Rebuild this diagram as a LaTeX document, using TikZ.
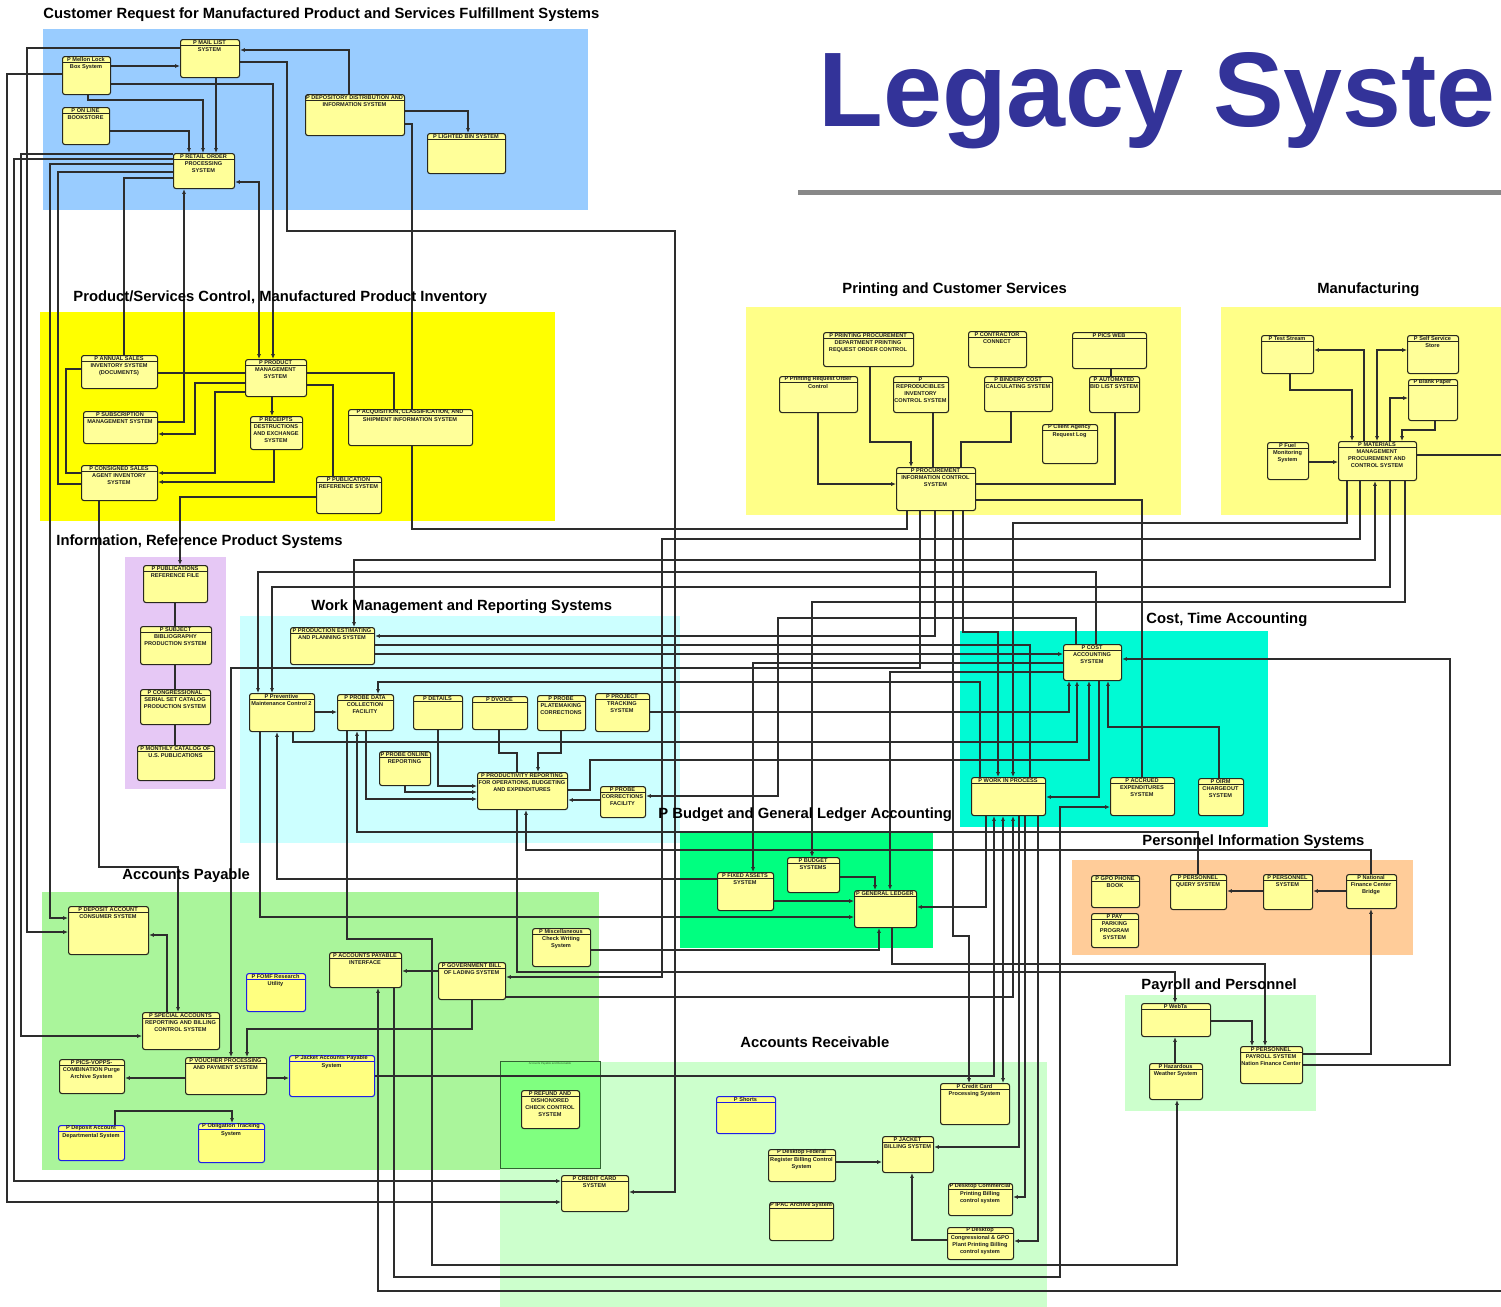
\documentclass[tikz,border=0pt]{standalone}
\usepackage{fontspec}
\setmainfont{Liberation Sans}
\usetikzlibrary{arrows.meta}
\pgfdeclarelayer{bg}\pgfdeclarelayer{edges}
\pgfsetlayers{bg,edges,main}
\definecolor{cBlue}{RGB}{153,204,255}
\definecolor{cYel}{RGB}{255,255,0}
\definecolor{cPur}{RGB}{230,200,245}
\definecolor{cCyan}{RGB}{204,255,255}
\definecolor{cLY}{RGB}{255,255,136}
\definecolor{cTeal}{RGB}{0,250,212}
\definecolor{cBG}{RGB}{0,255,128}
\definecolor{cOr}{RGB}{255,204,153}
\definecolor{cLG}{RGB}{204,255,204}
\definecolor{cAP}{RGB}{170,245,155}
\definecolor{cDG}{RGB}{128,255,128}
\definecolor{cDGline}{RGB}{50,100,50}
\definecolor{cBox}{RGB}{255,255,153}
\definecolor{cBoxB}{RGB}{255,255,128}
\definecolor{cBord}{RGB}{40,40,30}
\definecolor{cBlueB}{RGB}{30,30,230}
\definecolor{cTxt}{RGB}{30,30,30}
\definecolor{cTitle}{RGB}{51,51,153}
\definecolor{cLine}{RGB}{45,45,45}
\definecolor{cRule}{RGB}{136,136,136}
\newcommand\sbx[8][]{%
  \node[sbox,#1,minimum width={(#5-#3)*0.5pt},minimum height={(#6-#4)*0.5pt},anchor=north west] (#2) at (#3,#4) {};
  \draw[hl,#1] (#3,#4+6.5) -- (#5,#4+6.5);
  \node[ht] (#2-t) at ({(#3+#5)/2},#4+3.4) {#7};
  \node[bt] (#2-b) at ({(#3+#5)/2},#4+7) {#8};
}
\begin{document}
\begin{tikzpicture}[x=0.5pt,y=-0.5pt,
  sbox/.style={draw=cBord,fill=cBox,rounded corners=1.2pt,line width=0.55pt,inner sep=0pt},
  bluebox/.style={draw=cBlueB,fill=cBoxB},
  hl/.style={draw=cBord,line width=0.5pt},
  ht/.style={font=\fontsize{2.8}{3.4}\selectfont\bfseries,inner sep=0pt,text=cTxt},
  bt/.style={font=\fontsize{2.8}{3.5}\selectfont\bfseries,inner sep=0.4pt,anchor=north,align=center,text=cTxt},
  sect/.style={font=\fontsize{7.4}{9}\selectfont\bfseries,anchor=base west,inner sep=0pt},
  cn/.style={draw=cLine,line width=0.55pt},
  ar/.style={-{Latex[length=2.4pt,width=2pt]}},
  ab/.style={{Latex[length=2.4pt,width=2pt]}-{Latex[length=2.4pt,width=2pt]}}]
\useasboundingbox (0,0) rectangle (1501,1307);
\clip (0,0) rectangle (1501,1307);
\begin{pgfonlayer}{bg}
\fill[cBlue] (43,29) rectangle (588,210);
\fill[cYel] (40,312) rectangle (555,521);
\fill[cPur] (125,557) rectangle (226,789);
\fill[cCyan] (240,616) rectangle (680,843);
\fill[cLY] (746,307) rectangle (1181,515);
\fill[cLY] (1221,307) rectangle (1501,515);
\fill[cTeal] (960,631) rectangle (1268,827);
\fill[cBG] (680,833) rectangle (933,948);
\fill[cOr] (1072,860) rectangle (1413,955);
\fill[cLG] (1125,995) rectangle (1316,1111);
\fill[cAP] (42,892) rectangle (599,1170);
\fill[cLG] (500,1062) rectangle (1047,1307);
\filldraw[fill=cDG,draw=cDGline,line width=0.5pt] (500,1061) rectangle (600,1168);
\fill[cRule] (798,190) rectangle (1501,195);
\end{pgfonlayer}
% titles
\node[anchor=base west,inner sep=0pt,text=cTitle,font=\fontsize{53}{60}\selectfont\bfseries] (legacy) at (818,126) {Legacy Syste};
\node[sect] (t1) at (43,18) {Customer Request for Manufactured Product and Services Fulfillment Systems};
\node[sect] (t2) at (73,301) {Product/Services Control, Manufactured Product Inventory};
\node[sect] (t3) at (56,545) {Information, Reference Product Systems};
\node[sect] (t4) at (311,610) {Work Management and Reporting Systems};
\node[sect] (t5) at (842,293) {Printing and Customer Services};
\node[sect] (t6) at (1317,293) {Manufacturing};
\node[sect] (t7) at (1146,623) {Cost, Time Accounting};
\node[sect] (t8) at (658,818) {P Budget and General Ledger Accounting};
\node[sect] (t9) at (1142,845) {Personnel Information Systems};
\node[sect] (t10) at (122,879) {Accounts Payable};
\node[sect] (t11) at (1141,989) {Payroll and Personnel};
\node[sect] (t12) at (740,1047) {Accounts Receivable};
\node[font=\fontsize{1.4}{1.6}\selectfont,inner sep=0pt,text=cDGline] (t13) at (550,1064) {Accounts Payable and Receivable};
% boxes
\sbx{mail}{180}{39}{239}{77}{P MAIL LIST}{SYSTEM}
\sbx{mellon}{62}{56}{110}{94}{P Mellon Lock}{Box System}
\sbx{online}{62}{107}{109}{144}{P ON LINE}{BOOKSTORE}
\sbx{retail}{173}{153}{234}{188}{P RETAIL ORDER}{PROCESSING\\SYSTEM}
\sbx{depo}{305}{94}{404}{135}{P DEPOSITORY DISTRIBUTION AND}{INFORMATION SYSTEM}
\sbx{bin}{427}{133}{505}{173}{P LIGHTED BIN SYSTEM}{}
\sbx{annual}{81}{355}{157}{388}{P ANNUAL SALES}{INVENTORY SYSTEM\\(DOCUMENTS)}
\sbx{prodm}{245}{359}{306}{396}{P PRODUCT}{MANAGEMENT\\SYSTEM}
\sbx{subs}{83}{411}{157}{443}{P SUBSCRIPTION}{MANAGEMENT SYSTEM}
\sbx{rcpt}{250}{416}{302}{449}{P RECEIPTS}{DESTRUCTIONS\\AND EXCHANGE\\SYSTEM}
\sbx{acq}{348}{409}{472}{445}{P ACQUISITION, CLASSIFICATION, AND}{SHIPMENT INFORMATION SYSTEM}
\sbx{consig}{81}{465}{157}{500}{P CONSIGNED SALES}{AGENT INVENTORY\\SYSTEM}
\sbx{pubref}{316}{476}{381}{513}{P PUBLICATION}{REFERENCE SYSTEM}
\sbx{pubfile}{143}{565}{207}{602}{P PUBLICATIONS}{REFERENCE FILE}
\sbx{subj}{140}{626}{211}{664}{P SUBJECT}{BIBLIOGRAPHY\\PRODUCTION SYSTEM}
\sbx{cong}{140}{689}{210}{724}{P CONGRESSIONAL}{SERIAL SET CATALOG\\PRODUCTION SYSTEM}
\sbx{monthly}{137}{745}{214}{780}{P MONTHLY CATALOG OF}{U.S. PUBLICATIONS}
\sbx{prodest}{290}{627}{374}{664}{P PRODUCTION ESTIMATING}{AND PLANNING SYSTEM}
\sbx{prev}{249}{693}{314}{731}{P Preventive}{Maintenance Control 2}
\sbx{probe}{337}{694}{393}{730}{P PROBE DATA}{COLLECTION\\FACILITY}
\sbx{det}{413}{695}{462}{729}{P DETAILS}{}
\sbx{dvoice}{472}{696}{527}{729}{P DVOICE}{}
\sbx{plate}{537}{695}{585}{730}{P PROBE}{PLATEMAKING\\CORRECTIONS}
\sbx{proj}{595}{693}{649}{731}{P PROJECT}{TRACKING\\SYSTEM}
\sbx{online2}{379}{751}{430}{785}{P PROBE ONLINE}{REPORTING}
\sbx{prodr}{477}{772}{567}{809}{P PRODUCTIVITY REPORTING}{FOR OPERATIONS, BUDGETING\\AND EXPENDITURES}
\sbx{pcorr}{600}{786}{645}{817}{P PROBE}{CORRECTIONS\\FACILITY}
\sbx{pp}{823}{332}{913}{366}{P PRINTING PROCUREMENT}{DEPARTMENT PRINTING\\REQUEST ORDER CONTROL}
\sbx{contr}{968}{331}{1026}{367}{P CONTRACTOR}{CONNECT}
\sbx{picsweb}{1072}{332}{1146}{368}{P PICS WEB}{}
\sbx{pro}{779}{376}{857}{412}{P Printing Request Order}{Control}
\sbx{repro}{893}{376}{948}{412}{P}{REPRODUCIBLES\\INVENTORY\\CONTROL SYSTEM}
\sbx{bind}{984}{376}{1052}{411}{P BINDERY COST}{CALCULATING SYSTEM}
\sbx{auto}{1089}{376}{1139}{412}{P AUTOMATED}{BID LIST SYSTEM}
\sbx{client}{1042}{424}{1097}{463}{P Client Agency}{Request Log}
\sbx{proc}{896}{467}{975}{510}{P PROCUREMENT}{INFORMATION CONTROL\\SYSTEM}
\sbx{test}{1261}{335}{1313}{373}{P Test Stream}{}
\sbx{self}{1407}{335}{1458}{373}{P Self Service}{Store}
\sbx{blank}{1408}{379}{1457}{420}{P Blank Paper}{}
\sbx{fuel}{1267}{442}{1308}{479}{P Fuel}{Monitoring\\System}
\sbx{mat}{1338}{441}{1416}{480}{P MATERIALS}{MANAGEMENT\\PROCUREMENT AND\\CONTROL SYSTEM}
\sbx{cost}{1063}{644}{1121}{680}{P COST}{ACCOUNTING\\SYSTEM}
\sbx{wip}{971}{777}{1045}{815}{P WORK IN PROCESS}{}
\sbx{accr}{1110}{777}{1174}{815}{P ACCRUED}{EXPENDITURES\\SYSTEM}
\sbx{oirm}{1198}{778}{1243}{815}{P OIRM}{CHARGEOUT\\SYSTEM}
\sbx{fixed}{717}{872}{773}{910}{P FIXED ASSETS}{SYSTEM}
\sbx{budget}{787}{857}{839}{892}{P BUDGET}{SYSTEMS}
\sbx{gl}{854}{890}{916}{927}{P GENERAL LEDGER}{}
\sbx{gpo}{1091}{875}{1139}{907}{P GPO PHONE}{BOOK}
\sbx{park}{1091}{913}{1138}{947}{P PAY}{PARKING\\PROGRAM\\SYSTEM}
\sbx{query}{1170}{874}{1226}{909}{P PERSONNEL}{QUERY SYSTEM}
\sbx{psys}{1263}{874}{1312}{909}{P PERSONNEL}{SYSTEM}
\sbx{natl}{1346}{874}{1396}{908}{P National}{Finance Center\\Bridge}
\sbx{webta}{1141}{1003}{1210}{1036}{P WebTa}{}
\sbx{payroll}{1240}{1046}{1302}{1083}{P PERSONNEL}{PAYROLL SYSTEM\\Nation Finance Center}
\sbx{haz}{1149}{1063}{1202}{1099}{P Hazardous}{Weather System}
\sbx{depcon}{68}{906}{148}{954}{P DEPOSIT ACCOUNT}{CONSUMER SYSTEM}
\sbx[bluebox]{fomf}{246}{973}{305}{1011}{P FOMF Research}{Utility}
\sbx{apint}{329}{952}{401}{987}{P ACCOUNTS PAYABLE}{INTERFACE}
\sbx{special}{142}{1012}{219}{1049}{P SPECIAL ACCOUNTS}{REPORTING AND BILLING\\CONTROL SYSTEM}
\sbx{vopps}{59}{1059}{124}{1093}{P PICS-VOPPS-}{COMBINATION Purge\\Archive System}
\sbx{vouch}{185}{1057}{266}{1094}{P VOUCHER PROCESSING}{AND PAYMENT SYSTEM}
\sbx[bluebox]{jap}{289}{1055}{374}{1096}{P Jacket Accounts Payable}{System}
\sbx[bluebox]{depdep}{58}{1125}{124}{1160}{P Deposit Account}{Departmental System}
\sbx[bluebox]{oblig}{198}{1123}{264}{1162}{P Obligation Tracking}{System}
\sbx{gbl}{438}{962}{505}{999}{P GOVERNMENT BILL}{OF LADING SYSTEM}
\sbx{misc}{532}{928}{590}{966}{P Miscellaneous}{Check Writing\\System}
\sbx{refund}{521}{1090}{579}{1128}{P REFUND AND}{DISHONORED\\CHECK CONTROL\\SYSTEM}
\sbx{ccsys}{561}{1175}{628}{1211}{P CREDIT CARD}{SYSTEM}
\sbx[bluebox]{shorts}{716}{1096}{775}{1133}{P Shorts}{}
\sbx{ccproc}{940}{1083}{1009}{1124}{P Credit Card}{Processing System}
\sbx{jbill}{882}{1136}{933}{1172}{P JACKET}{BILLING SYSTEM}
\sbx{dfed}{768}{1149}{835}{1181}{P Desktop Federal}{Register Billing Control\\System}
\sbx{ipac}{769}{1202}{833}{1240}{P IPAC Archive System}{}
\sbx{dcom}{948}{1183}{1012}{1215}{P Desktop Commercial}{Printing Billing\\control system}
\sbx{dcong}{947}{1227}{1013}{1259}{P Desktop}{Congressional \& GPO\\Plant Printing Billing\\control system}
% connectors
\begin{pgfonlayer}{edges}
\draw[cn,ar] (mellon.east |- 0,66) -- (mail.west |- 0,66);
\draw[cn,ar] (mellon.east |- 0,84) -| (prodm.north -| 273,0);
\draw[cn,ar] (mellon.south -| 88,0) |- (203,100) -- (retail.north -| 203,0);
\draw[cn,ar] (online.east |- 0,131) -| (retail.north -| 189,0);
\draw[cn,ar] (mail.south -| 216,0) -- (retail.north -| 216,0);
\draw[cn,ar] (mail.west |- 0,48) -| (27,932) -- (depcon.west |- 0,932);
\draw[cn,ar] (mail.east |- 0,62) -| (287,231) -| (675,1192) -- (ccsys.east |- 0,1192);
\draw[cn,ar] (depo.north -| 349,0) |- (mail.east |- 0,50);
\draw[cn,ar] (depo.east |- 0,111) -| (bin.north -| 468,0);
\draw[cn] (depo.east |- 0,124) -| (412,529) -| (proc.south -| 907,0);
\draw[cn] (retail.west |- 0,178) -| (annual.north -| 124,0);
\draw[cn,ar] (retail.west |- 0,154) -| (21,1036) -- (special.west |- 0,1036);
\draw[cn,ar] (retail.west |- 0,159) -| (14,1181) -- (ccsys.west |- 0,1181);
\draw[cn,ar] (retail.west |- 0,164) -| (50,918) -- (depcon.west |- 0,918);
\draw[cn] (retail.west |- 0,172) -| (58,484) -- (consig.west |- 0,484);
\draw[cn,ar] (mellon.west |- 0,74) -| (7,1202) -- (ccsys.west |- 0,1202);
\draw[cn,ab] (retail.east |- 0,182) -| (prodm.north -| 259,0);
\draw[cn,ar] (subs.east |- 0,422) -| (retail.south -| 184,0);
\draw[cn] (annual.east |- 0,373) -- (prodm.west |- 0,373);
\draw[cn,ar] (prodm.west |- 0,383) -| (195,434) -- (subs.east |- 0,434);
\draw[cn,ar] (prodm.west |- 0,392) -| (215,473) -- (consig.east |- 0,473);
\draw[cn,ar] (prodm.south -| 272,0) -- (rcpt.north -| 272,0);
\draw[cn] (prodm.east |- 0,373) -| (acq.north -| 394,0);
\draw[cn] (prodm.east |- 0,385) -| (pubref.north -| 333,0);
\draw[cn,ar] (rcpt.south -| 274,0) |- (consig.east |- 0,482);
\draw[cn,ar] (pubref.west |- 0,497) -| (pubfile.north -| 180,0);
\draw[cn] (annual.west |- 0,369) -| (66,473) -- (consig.west |- 0,473);
\draw[cn,ar] (consig.south -| 99,0) |- (178,867) -- (special.north -| 178,0);
\draw[cn] (pubfile.south -| 175,0) -- (subj.north -| 175,0);
\draw[cn] (subj.south -| 175,0) -- (cong.north -| 175,0);
\draw[cn] (cong.south -| 175,0) -- (monthly.north -| 175,0);
\draw[cn,ab] (prodest.north -| 354,0) |- (1375,560) -- (mat.south -| 1375,0);
\draw[cn,ar] (cost.north -| 1096,0) |- (258,572) -- (prev.north -| 258,0);
\draw[cn,ar] (mat.south -| 1390,0) |- (272,587) -- (prev.north -| 272,0);
\draw[cn,ar] (mat.south -| 1405,0) |- (812,602) -- (budget.north -| 812,0);
\draw[cn,ar] (mat.south -| 1347,0) |- (1013,523) -- (wip.north -| 1013,0);
\draw[cn,ar] (mat.south -| 1360,0) |- (662,539) |- (gbl.east |- 0,977);
\draw[cn] (mat.east |- 0,455) -- (1501,455);
\draw[cn,ar] (test.south -| 1290,0) |- (1352,390) -- (mat.north -| 1352,0);
\draw[cn,ar] (mat.north -| 1364,0) |- (test.east |- 0,350);
\draw[cn,ab] (mat.north -| 1377,0) |- (self.west |- 0,350);
\draw[cn,ar] (mat.north -| 1390,0) |- (blank.west |- 0,398);
\draw[cn,ar] (blank.south -| 1435,0) |- (1402,430) -- (mat.north -| 1402,0);
\draw[cn,ar] (fuel.east |- 0,462) -- (mat.west |- 0,462);
\draw[cn,ar] (pp.south -| 870,0) |- (911,442) -- (proc.north -| 911,0);
\draw[cn,ar] (pro.south -| 818,0) |- (proc.west |- 0,484);
\draw[cn] (repro.south -| 933,0) -- (proc.north -| 933,0);
\draw[cn] (bind.south -| 1011,0) |- (961,442) -- (proc.north -| 961,0);
\draw[cn] (picsweb.south -| 1111,0) -- (auto.north -| 1111,0);
\draw[cn] (auto.south -| 1115,0) |- (proc.east |- 0,484);
\draw[cn] (proc.east |- 0,500) -| (accr.north -| 1142,0);
\draw[cn,ar] (proc.south -| 920,0) |- (231,668) -- (vouch.north -| 231,0);
\draw[cn,ar] (proc.south -| 935,0) |- (prodest.east |- 0,636);
\draw[cn,ar] (proc.south -| 953,0) |- (969,936) -- (ccproc.north -| 969,0);
\draw[cn,ar] (proc.south -| 963,0) |- (998,632) -- (wip.north -| 998,0);
\draw[cn] (prodest.east |- 0,645) -| (wip.north -| 1030,0);
\draw[cn,ar] (prodest.east |- 0,654) -- (cost.west |- 0,654);
\draw[cn,ar] (cost.west |- 0,663) -| (fixed.north -| 753,0);
\draw[cn,ar] (cost.west |- 0,672) -| (gl.north -| 890,0);
\draw[cn,ar] (wip.north -| 980,0) |- (378,682) -- (probe.north -| 378,0);
\draw[cn,ar] (proj.east |- 0,712) -| (cost.south -| 1069,0);
\draw[cn,ar] (prev.south -| 293,0) |- (1077,742) -- (cost.south -| 1077,0);
\draw[cn,ar] (prodr.east |- 0,790) -| (590,760) -| (cost.south -| 1089,0);
\draw[cn,ar] (oirm.north -| 1219,0) |- (1108,727) -- (cost.south -| 1108,0);
\draw[cn,ar] (payroll.east |- 0,1065) -| (1450,659) -- (cost.east |- 0,659);
\draw[cn,ar] (cost.south -| 1099,0) |- (wip.east |- 0,797);
\draw[cn,ar] (apint.south -| 394,0) |- (1060,1277) |- (accr.west |- 0,807);
\draw[cn,ar] (wip.south -| 986,0) |- (gl.east |- 0,907);
\draw[cn,ar] (jap.east |- 0,1076) -| (wip.south -| 994,0);
\draw[cn,ab] (wip.south -| 1003,0) -- (ccproc.north -| 1003,0);
\draw[cn,ar] (gbl.east |- 0,997) -| (wip.south -| 1013,0);
\draw[cn,ar] (wip.south -| 1019,0) |- (jbill.east |- 0,1147);
\draw[cn,ar] (wip.south -| 1025,0) |- (dcom.east |- 0,1197);
\draw[cn,ar] (wip.south -| 1038,0) |- (dcong.east |- 0,1241);
\draw[cn,ar] (prodr.south -| 517,0) |- (1175,972) -- (webta.north -| 1175,0);
\draw[cn,ar] (fixed.west |- 0,879) -| (prev.south -| 277,0);
\draw[cn,ar] (prev.south -| 260,0) |- (gl.west |- 0,917);
\draw[cn,ar] (probe.south -| 347,0) |- (432,939) |- (1177,1265) -- (haz.south -| 1177,0);
\coordinate (offr) at (1501,1291);
\draw[cn,ar] (offr) -| (apint.south -| 378,0);
\draw[cn,ar] (query.north -| 1198,0) |- (357,832) -- (probe.south -| 357,0);
\draw[cn,ar] (natl.north -| 1371,0) |- (526,850) -- (prodr.south -| 526,0);
\draw[cn,ar] (probe.south -| 366,0) |- (prodr.west |- 0,799);
\draw[cn,ar] (det.south -| 438,0) |- (prodr.west |- 0,786);
\draw[cn,ar] (online2.south -| 405,0) |- (prodr.west |- 0,792);
\draw[cn] (dvoice.south -| 499,0) |- (517,753) -- (prodr.north -| 517,0);
\draw[cn,ar] (plate.south -| 561,0) |- (538,753) -- (prodr.north -| 538,0);
\draw[cn,ar] (pcorr.west |- 0,800) -- (prodr.east |- 0,800);
\draw[cn,ar] (cost.north -| 1076,0) |- (778,618) |- (pcorr.east |- 0,796);
\draw[cn,ar] (prev.east |- 0,712) -- (probe.west |- 0,712);
\draw[cn,ar] (budget.east |- 0,877) -| (gl.north -| 875,0);
\draw[cn,ar] (fixed.east |- 0,901) -- (gl.west |- 0,901);
\draw[cn,ar] (gl.south -| 892,0) |- (1265,964) -- (payroll.north -| 1265,0);
\draw[cn,ar] (misc.east |- 0,950) -| (gl.south -| 879,0);
\draw[cn,ar] (psys.west |- 0,891) -- (query.east |- 0,891);
\draw[cn,ar] (natl.west |- 0,891) -- (psys.east |- 0,891);
\draw[cn,ar] (payroll.east |- 0,1054) -| (natl.south -| 1371,0);
\draw[cn,ar] (webta.east |- 0,1021) -| (payroll.north -| 1252,0);
\draw[cn,ar] (haz.north -| 1175,0) -- (webta.south -| 1175,0);
\draw[cn,ar] (special.north -| 167,0) |- (depcon.east |- 0,935);
\draw[cn,ar] (vouch.west |- 0,1078) -- (vopps.east |- 0,1078);
\draw[cn,ar] (vouch.east |- 0,1078) -- (jap.west |- 0,1078);
\draw[cn,ar] (depdep.north -| 115,0) |- (232,1111) -- (oblig.north -| 232,0);
\draw[cn,ar] (gbl.west |- 0,971) -- (apint.east |- 0,971);
\draw[cn,ar] (gbl.south -| 472,0) |- (247,1029) -- (vouch.north -| 247,0);
\draw[cn,ar] (dfed.east |- 0,1162) -- (jbill.west |- 0,1162);
\draw[cn,ar] (dcong.west |- 0,1240) -| (jbill.south -| 912,0);
\end{pgfonlayer}
\end{tikzpicture}
\end{document}
